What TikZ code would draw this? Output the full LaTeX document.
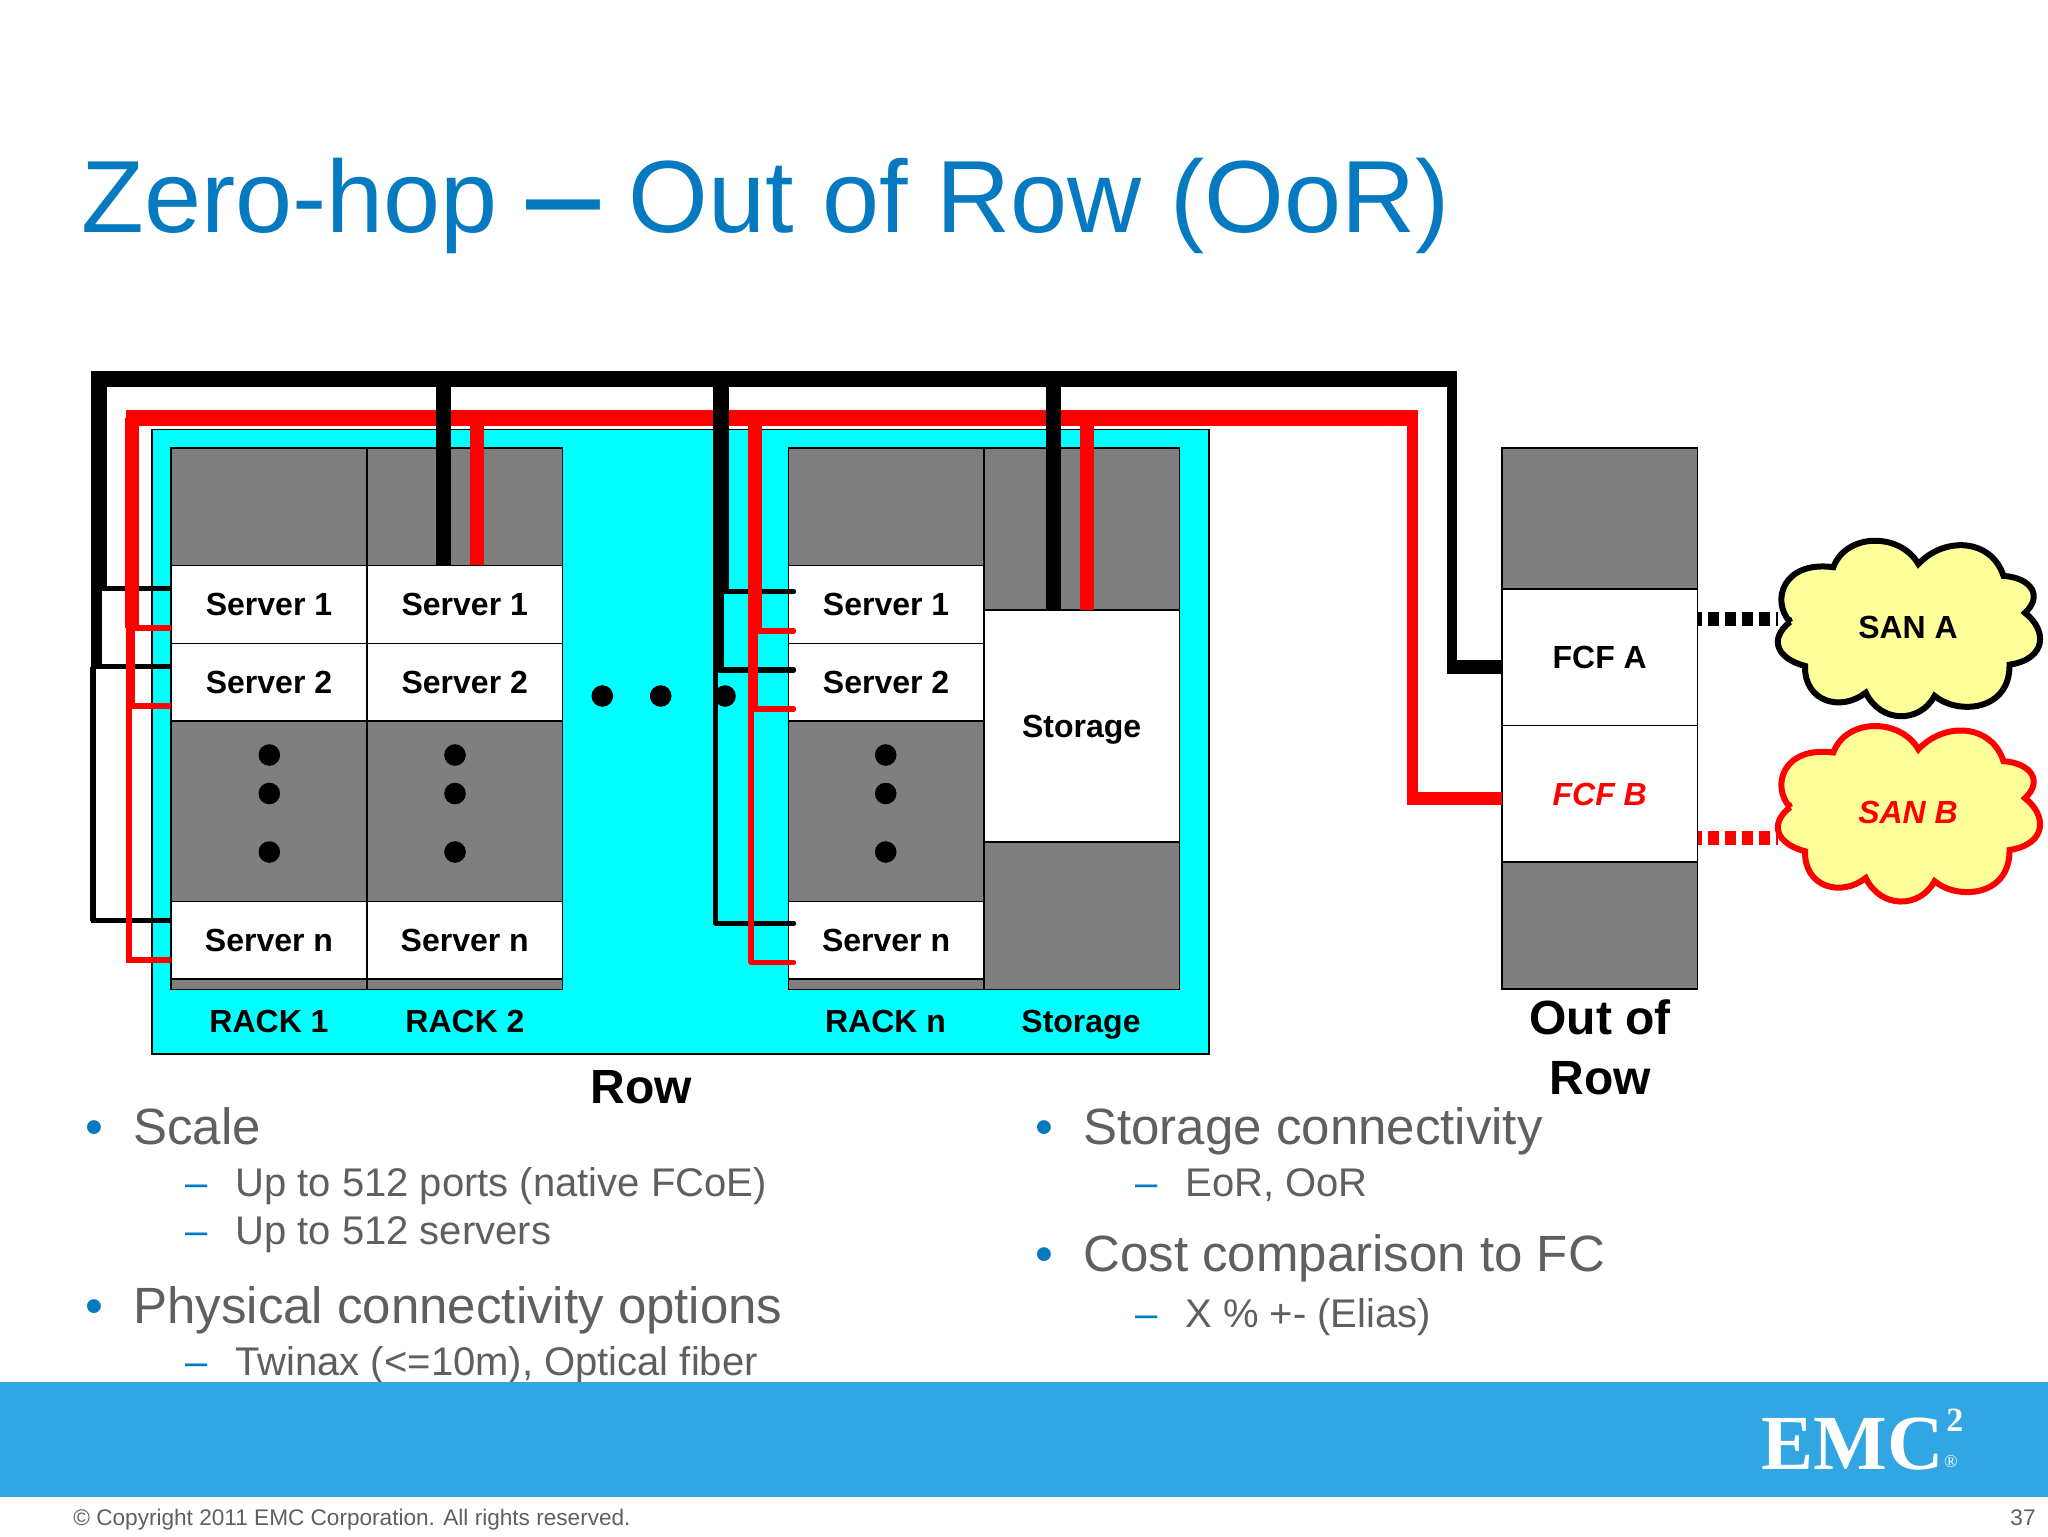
\documentclass[tikz,border=0pt]{standalone}
\usepackage{fontspec}
\usepackage{graphicx}
\usepackage{xcolor}
\setmainfont{Liberation Sans}
\newfontfamily\emcfont{Liberation Serif}
\definecolor{EmcTitle}{RGB}{5,122,193}
\definecolor{EmcBar}{RGB}{50,166,227}
\definecolor{BodyGrey}{RGB}{95,95,95}
\definecolor{RackGrey}{RGB}{128,127,128}
\definecolor{RowCyan}{RGB}{0,255,255}
\definecolor{CloudYellow}{RGB}{255,255,153}
\newcommand{\bulA}{\llap{\textcolor{EmcTitle}{•}\hspace{15pt}}}
\newcommand{\bulB}{\llap{\textcolor{EmcTitle}{–}\hspace{14pt}}}
\newcommand{\sancloud}[2]{
\begin{scope}[yshift=#1,shift={(1908,628)},xscale=.98,yscale=.965,shift={(-1908,-628)}]
\draw[line width=3pt,draw=#2,fill=CloudYellow,miter limit=2] (1787.6,621.7)
.. controls (1768,600) and (1780,558) .. (1831.8,565)
.. controls (1845,529) and (1900,529) .. (1918.6,561.7)
.. controls (1945,533) and (1993,535) .. (2005.4,574)
.. controls (2034,576) and (2046,595) .. (2027.3,612.3)
.. controls (2050,630) and (2050,660) .. (2011.6,666)
.. controls (2012,715) and (1958,718) .. (1935.1,698.3)
.. controls (1920,727) and (1880,727) .. (1864.9,695)
.. controls (1840,715) and (1802,705) .. (1802.9,667.3)
.. controls (1775,660) and (1765,640) .. cycle;
\end{scope}}
\tikzset{
cell/.style 2 args={draw=black,line width=0.8pt,inner sep=0pt,outer sep=0pt,anchor=north west,
 minimum width=#1*0.5pt,minimum height=#2*0.5pt,text height=11.5pt,text depth=0pt,
 font=\fontsize{16}{19}\selectfont\bfseries},
grey/.style={fill=RackGrey},
white/.style={fill=white},
dot/.style={circle,fill=black,inner sep=0pt,minimum size=10.8pt},
tag/.style={inner sep=0pt,text height=11.5pt,text depth=0pt,font=\fontsize{16}{19}\selectfont\bfseries},
big/.style={inner sep=0pt,align=center,font=\fontsize{24}{30}\selectfont\bfseries},
lvlA/.style={inner sep=0pt,anchor=base west,text=BodyGrey,font=\fontsize{25.5}{30}\selectfont},
lvlB/.style={inner sep=0pt,anchor=base west,text=BodyGrey,font=\fontsize{20}{24}\selectfont},
bkw/.style={line width=#1*0.5pt,draw=black},
rdw/.style={line width=#1*0.5pt,draw=red},
}
\begin{document}
\begin{tikzpicture}[x=0.5pt,y=-0.5pt]
\useasboundingbox (0,0) rectangle (2048,1536);
\node[inner sep=0pt,anchor=base west,text=EmcTitle,font=\fontsize{51.3}{60}\selectfont] (title) at (81,232)
{Zero-hop \scalebox{0.72}[1]{\bfseries —} Out of Row (OoR)};
% row and racks
\node[cell={1056.9}{624.7},fill=RowCyan] (row) at (151.8,429.3) {};
\node[cell={196}{541.3},grey] (rackA) at (171,448) {};
\node[cell={195.5}{541.3},grey] (rackB) at (367,448) {};
\node[cell={195.2}{541.3},grey] (rackC) at (788.5,448) {};
\node[cell={195.9}{541.3},grey] (rackS) at (983.7,448) {};
\node[cell={196}{78},white] (srvAa) at (171,565.3) {Server 1};
\node[cell={196}{77.4},white] (srvAb) at (171,643.3) {Server 2};
\node[cell={196}{77.7},white] (srvAn) at (171,901.3) {Server n};
\node[cell={195.5}{78},white] (srvBa) at (367,565.3) {Server 1};
\node[cell={195.5}{77.4},white] (srvBb) at (367,643.3) {Server 2};
\node[cell={195.5}{77.7},white] (srvBn) at (367,901.3) {Server n};
\node[cell={195.2}{78},white] (srvCa) at (788.5,565.3) {Server 1};
\node[cell={195.2}{77.4},white] (srvCb) at (788.5,643.3) {Server 2};
\node[cell={195.2}{77.7},white] (srvCn) at (788.5,901.3) {Server n};
\node[cell={195.9}{232},white] (stor) at (983.7,610) {Storage};
\node[tag] (rackAt) at (269,1021) {RACK 1};
\node[tag] (rackBt) at (465,1021) {RACK 2};
\node[tag] (rackCt) at (885.5,1021) {RACK n};
\node[tag] (rackSt) at (1081,1021) {Storage};
\node[big] (rowt) at (641,1087) {Row};
% dots
\foreach \n/\x in {a/269.3,b/455,c/885.7}{
\node[dot] (dot\n1) at (\x,755) {};
\node[dot] (dot\n2) at (\x,793.5) {};
\node[dot] (dot\n3) at (\x,852) {};}
\node[dot] (dotr1) at (602.3,696) {};
\node[dot] (dotr2) at (660.7,696) {};
\node[dot] (dotr3) at (725,696) {};
% out of row
\node[cell={195.5}{541},grey] (oor) at (1502,448) {};
\node[cell={195.5}{136.3},white] (fcfA) at (1502,589) {FCF A};
\node[cell={195.5}{136.7},white,text=red,font=\fontsize{16}{19}\selectfont\bfseries\itshape] (fcfB) at (1502,725.3) {FCF B};
\node[big] (oort) at (1600,1047) {Out of\\Row};
% junctions
\coordinate (bkNW) at (98.5,379);
\coordinate (bkNE) at (1456.6,379);
\coordinate (bkA1) at (98.5,588.7);
\coordinate (bkA2) at (96,666.7);
\coordinate (bkA3) at (93,920.7);
\coordinate (bkAx) at (90.6,0);
\coordinate (bkB) at (443.5,379);
\coordinate (bkC) at (721,379);
\coordinate (bkC1) at (721,591.7);
\coordinate (bkC2) at (718.6,670);
\coordinate (bkC3) at (715.7,923.3);
\coordinate (bkCx) at (715.7,0);
\coordinate (bkS) at (1053.5,379);
\coordinate (bkF) at (1451.6,667);
\coordinate (rdNW) at (132,418);
\coordinate (rdNE) at (1417.5,418);
\coordinate (rdA1) at (132,628);
\coordinate (rdA2) at (130.6,706);
\coordinate (rdA3) at (128.7,960);
\coordinate (rdAx) at (125.8,0);
\coordinate (rdB) at (477,418);
\coordinate (rdC) at (755,418);
\coordinate (rdC1) at (755,631);
\coordinate (rdC2) at (753,709);
\coordinate (rdC3) at (751,962.5);
\coordinate (rdCx) at (751,0);
\coordinate (rdS) at (1087,418);
\coordinate (rdF) at (1412,798.3);
\coordinate (sanAin) at (1778,619);
\coordinate (sanBin) at (1778,838);
% black taps under the red
\draw[bkw=11] (bkA1 -| bkA2) -- (bkA2);
\draw[bkw=5.4] (bkA2 -| bkA3) -- (bkA3);
\draw[bkw=5.4] (bkAx |- bkA1) -- (bkA1 -| srvAa.west);
\draw[bkw=5.4] (bkAx |- bkA2) -- (bkA2 -| srvAb.west);
\draw[bkw=5.4] (bkAx |- bkA3) -- (bkA3 -| srvAn.west);
\draw[bkw=11] (bkC1 -| bkC2) -- (bkC2);
\draw[bkw=5.4] (bkC2 -| bkC3) -- (bkC3);
\draw[bkw=5.4,line cap=round] (bkCx |- bkC1) -- ([xshift=2.5pt]bkC1 -| srvCa.west);
\draw[bkw=5.4,line cap=round] (bkCx |- bkC2) -- ([xshift=2.5pt]bkC2 -| srvCb.west);
\draw[bkw=5.4,line cap=round] (bkCx |- bkC3) -- ([xshift=2.5pt]bkC3 -| srvCn.west);
% red
\draw[rdw=16] (rdAx |- rdNW) -- (rdNE);
\draw[rdw=13.4] (rdNW) -- (rdA1);
\draw[rdw=9.6] (rdA1 -| rdA2) -- (rdA2);
\draw[rdw=5.8] (rdA2 -| rdA3) -- (rdA3);
\draw[rdw=5.4] (rdAx |- rdA1) -- (rdA1 -| srvAa.west);
\draw[rdw=5.4] (rdAx |- rdA2) -- (rdA2 -| srvAb.west);
\draw[rdw=5.4] (rdAx |- rdA3) -- (rdA3 -| srvAn.west);
\draw[rdw=13.4] (rdB) -- (rdB |- srvBa.north);
\draw[rdw=13.4] (rdC) -- (rdC1);
\draw[rdw=9.6] (rdC1 -| rdC2) -- (rdC2);
\draw[rdw=6] (rdC2 -| rdC3) -- (rdC3);
\draw[rdw=5.4,line cap=round] (rdCx |- rdC1) -- ([xshift=2.5pt]rdC1 -| srvCa.west);
\draw[rdw=5.4,line cap=round] (rdCx |- rdC2) -- ([xshift=2.5pt]rdC2 -| srvCb.west);
\draw[rdw=5.4,line cap=round] (rdCx |- rdC3) -- ([xshift=2.5pt]rdC3 -| srvCn.west);
\draw[rdw=13.4] (rdS) -- (rdS |- stor.north);
\draw[rdw=11] (rdNE -| rdF) -- (rdF);
\draw[rdw=13.3] ([xshift=-2.75pt]rdF) -- (rdF -| fcfB.west);
% black over the red
\draw[bkw=15.4] (bkAx |- bkNW) -- (bkNE);
\draw[bkw=16] (bkNW) -- (bkA1);
\draw[bkw=15.3] (bkB) -- (bkB |- srvBa.north);
\draw[bkw=16] (bkC) -- (bkC1);
\draw[bkw=15.3] (bkS) -- (bkS |- stor.north);
\draw[bkw=10] (bkNE -| bkF) -- (bkF);
\draw[bkw=14] ([xshift=-2.5pt]bkF) -- (bkF -| fcfA.west);
% san
\draw[bkw=14,dash pattern=on 5.5pt off 3pt,dash phase=3.5pt] (sanAin -| fcfA.east) -- (sanAin);
\draw[rdw=14,dash pattern=on 5.5pt off 3pt,dash phase=3.5pt] (sanBin -| fcfB.east) -- (sanBin);
\sancloud{0pt}{black}
\sancloud{-92.65pt}{red}
\node[tag] (sanA) at (1908,627) {SAN A};
\node[tag,text=red,font=\fontsize{16}{19}\selectfont\bfseries\itshape] (sanB) at (1908,812) {SAN B};
% bullets
\node[lvlA] (scale) at (133,1144) {\bulA Scale};
\node[lvlB] (scaleA) at (235,1196) {\bulB Up to 512 ports (native FCoE)};
\node[lvlB] (scaleB) at (235,1244) {\bulB Up to 512 servers};
\node[lvlA] (phys) at (133,1323) {\bulA Physical connectivity options};
\node[lvlB] (physA) at (235,1375) {\bulB Twinax (<=10m), Optical fiber};
\node[lvlA] (stconn) at (1083,1144) {\bulA Storage connectivity};
\node[lvlB] (stconnA) at (1185,1196) {\bulB EoR, OoR};
\node[lvlA] (cost) at (1083,1271) {\bulA Cost comparison to FC};
\node[lvlB] (costA) at (1185,1327) {\bulB X \% +- (Elias)};
% footer
\fill[EmcBar] (0,1382) rectangle (2048,1497);
\node[inner sep=0pt,anchor=base west,text=white,font=\emcfont\bfseries\fontsize{39}{40}\selectfont] (emc) at (1761,1469) {EMC};
\node[inner sep=0pt,anchor=base west,text=white,font=\emcfont\bfseries\fontsize{17}{20}\selectfont] (emcTwo) at (1946,1431) {2};
\node[inner sep=0pt,text=white,font=\emcfont\fontsize{9}{10}\selectfont] (emcReg) at (1951,1462) {®};
\node[inner sep=0pt,anchor=base west,text=BodyGrey,font=\fontsize{11.3}{13}\selectfont] (copy) at (73,1525) {© Copyright 2011 EMC Corporation. All rights reserved.};
\node[inner sep=0pt,anchor=base east,text=BodyGrey,font=\fontsize{11.3}{13}\selectfont] (page) at (2036,1525) {37};
\end{tikzpicture}
\end{document}
